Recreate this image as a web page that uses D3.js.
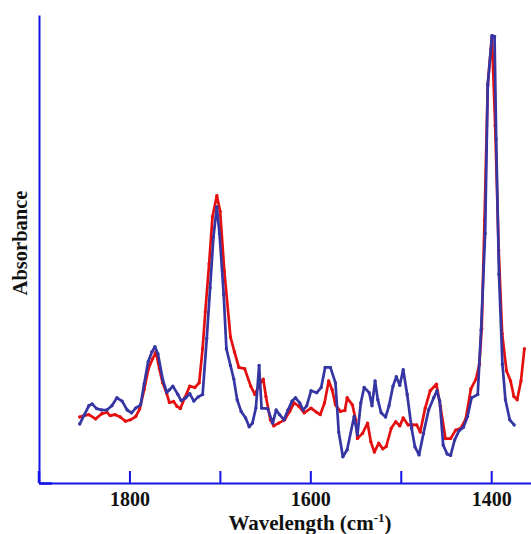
<!DOCTYPE html>
<html>
<head>
<meta charset="utf-8">
<script src="https://cdn.jsdelivr.net/npm/d3@7"></script>
<style>
  body { margin: 0; background: #fff; }
  svg text { font-family: "Times New Roman", "Liberation Serif", serif; font-weight: bold; }
</style>
</head>
<body>
<svg id="canvas" width="531" height="534"></svg>
<script>
// wavenumbers (cm-1) and absorbance (arbitrary units)
const redWave = [1855.0, 1850.1, 1844.9, 1837.4, 1830.6, 1825.0, 1821.3, 1815.8, 1810.1, 1804.4, 1798.8, 1793.1, 1788.7, 1783.7, 1779.0, 1774.5, 1770.7, 1766.9, 1763.3, 1758.8, 1755.8, 1751.2, 1747.5, 1743.7, 1738.8, 1733.3, 1727.7, 1722.9, 1719.1, 1716.1, 1711.9, 1708.2, 1703.4, 1699.7, 1695.1, 1688.3, 1683.9, 1679.0, 1672.6, 1665.9, 1661.3, 1656.1, 1652.0, 1649.1, 1644.2, 1640.4, 1635.1, 1628.4, 1622.8, 1617.9, 1612.7, 1606.8, 1599.2, 1592.9, 1589.1, 1584.3, 1579.7, 1576.0, 1572.2, 1566.7, 1561.8, 1559.3, 1553.5, 1549.8, 1547.9, 1542.3, 1536.7, 1533.1, 1529.2, 1524.4, 1519.8, 1516.1, 1510.5, 1505.6, 1501.1, 1497.3, 1491.8, 1486.8, 1482.4, 1478.5, 1473.0, 1467.5, 1460.6, 1456.2, 1450.6, 1444.9, 1439.3, 1433.6, 1428.1, 1422.5, 1416.8, 1413.1, 1410.5, 1407.4, 1403.8, 1399.2, 1395.6, 1391.7, 1387.9, 1383.1, 1378.6, 1374.9, 1371.3, 1367.1, 1363.3]
const redAbs = [0.141, 0.144, 0.146, 0.137, 0.148, 0.151, 0.144, 0.146, 0.141, 0.132, 0.135, 0.142, 0.158, 0.200, 0.244, 0.265, 0.280, 0.244, 0.214, 0.191, 0.172, 0.174, 0.164, 0.159, 0.182, 0.207, 0.204, 0.214, 0.287, 0.366, 0.468, 0.569, 0.614, 0.580, 0.453, 0.312, 0.280, 0.247, 0.244, 0.207, 0.189, 0.211, 0.222, 0.185, 0.135, 0.122, 0.128, 0.135, 0.153, 0.171, 0.164, 0.150, 0.160, 0.151, 0.146, 0.171, 0.218, 0.200, 0.167, 0.153, 0.155, 0.182, 0.167, 0.135, 0.095, 0.106, 0.128, 0.088, 0.066, 0.085, 0.073, 0.078, 0.117, 0.131, 0.122, 0.139, 0.124, 0.124, 0.124, 0.109, 0.160, 0.197, 0.211, 0.164, 0.095, 0.095, 0.113, 0.117, 0.137, 0.201, 0.222, 0.254, 0.330, 0.562, 0.851, 0.953, 0.764, 0.497, 0.319, 0.240, 0.218, 0.185, 0.178, 0.218, 0.287]

const blueWave = [1855.0, 1850.1, 1844.9, 1841.2, 1836.3, 1830.6, 1825.0, 1819.5, 1813.8, 1808.1, 1802.5, 1797.7, 1793.1, 1787.6, 1783.7, 1779.3, 1775.2, 1771.8, 1768.5, 1763.3, 1758.8, 1755.8, 1752.0, 1746.4, 1742.8, 1737.7, 1733.3, 1728.8, 1724.0, 1719.1, 1714.5, 1710.8, 1707.1, 1703.4, 1700.4, 1695.8, 1692.8, 1688.3, 1684.6, 1680.9, 1676.5, 1671.5, 1667.6, 1664.0, 1660.2, 1656.6, 1653.9, 1647.2, 1641.5, 1637.8, 1634.0, 1629.2, 1624.7, 1620.2, 1616.4, 1611.6, 1607.9, 1604.0, 1599.2, 1592.9, 1588.0, 1583.6, 1577.8, 1572.2, 1568.6, 1564.0, 1559.3, 1551.6, 1547.9, 1544.2, 1540.5, 1534.9, 1531.8, 1528.4, 1525.4, 1521.7, 1516.8, 1513.0, 1508.6, 1504.9, 1501.1, 1497.3, 1492.9, 1488.0, 1484.3, 1479.8, 1474.9, 1469.2, 1463.6, 1460.0, 1456.9, 1453.1, 1448.7, 1444.9, 1440.4, 1435.5, 1430.7, 1426.2, 1421.7, 1414.9, 1411.2, 1406.7, 1403.8, 1399.2, 1396.3, 1394.5, 1391.4, 1387.6, 1384.3, 1379.5, 1374.6]
const blueAbs = [0.126, 0.145, 0.165, 0.169, 0.159, 0.156, 0.156, 0.165, 0.182, 0.175, 0.156, 0.150, 0.160, 0.167, 0.212, 0.259, 0.280, 0.291, 0.276, 0.222, 0.194, 0.199, 0.207, 0.189, 0.176, 0.182, 0.191, 0.175, 0.184, 0.189, 0.309, 0.417, 0.526, 0.590, 0.533, 0.403, 0.287, 0.251, 0.222, 0.178, 0.153, 0.139, 0.120, 0.128, 0.160, 0.251, 0.160, 0.159, 0.128, 0.156, 0.146, 0.135, 0.156, 0.175, 0.182, 0.171, 0.156, 0.165, 0.197, 0.193, 0.204, 0.247, 0.247, 0.214, 0.109, 0.056, 0.071, 0.142, 0.103, 0.171, 0.204, 0.193, 0.165, 0.218, 0.178, 0.150, 0.141, 0.165, 0.207, 0.227, 0.209, 0.242, 0.189, 0.117, 0.077, 0.060, 0.106, 0.156, 0.182, 0.197, 0.175, 0.081, 0.062, 0.059, 0.092, 0.112, 0.119, 0.142, 0.182, 0.189, 0.327, 0.533, 0.851, 0.956, 0.954, 0.735, 0.446, 0.254, 0.178, 0.135, 0.124]

const xTicks = [1800, 1700, 1600, 1500, 1400]
const xLabels = [1800, 1600, 1400]

const axisColor = '#1414e6'
const redColor = '#e3100f'
const blueColor = '#3535a3'

let svg = d3.select('#canvas')

let plotLeft = 39, plotRight = 531, plotTop = 15, plotBottom = 483

let xScale = d3.scaleLinear()
    .domain([1900, 1356])
    .range([plotLeft, plotRight])

let yScale = d3.scaleLinear()
    .domain([0, 1])
    .range([plotBottom, plotTop])

// x axis, ticks pointing inward
let xAxis = d3.axisBottom(xScale)
    .tickValues(xTicks)
    .tickSizeInner(-12)
    .tickSizeOuter(0)
    .tickPadding(8)
    .tickFormat((d) => xLabels.includes(d) ? d : '')

let gx = svg.append('g')
    .attr('transform', 'translate(0,' + plotBottom + ')')
    .call(xAxis)
gx.select('.domain').attr('stroke', axisColor).attr('stroke-width', 2)
gx.selectAll('.tick line').attr('stroke', axisColor).attr('stroke-width', 2)
gx.selectAll('.tick text')
    .attr('fill', '#111')
    .style('font-size', '20px')
    .attr('dy', '0.75em')

// y axis, no labels, only a stub at the bottom
let yAxis = d3.axisLeft(yScale)
    .tickValues([0])
    .tickSizeInner(-13)
    .tickSizeOuter(0)
    .tickFormat('')

let gy = svg.append('g')
    .attr('transform', 'translate(' + plotLeft + ',0)')
    .call(yAxis)
gy.select('.domain').attr('stroke', axisColor).attr('stroke-width', 2)
gy.selectAll('.tick line').attr('stroke', axisColor).attr('stroke-width', 2.5)

// thicker corner on the y axis
svg.append('line')
    .attr('x1', plotLeft).attr('x2', plotLeft)
    .attr('y1', plotBottom - 12).attr('y2', plotBottom)
    .attr('stroke', axisColor)
    .attr('stroke-width', 2.5)

let line = d3.line()
    .x((d) => xScale(d[0]))
    .y((d) => yScale(d[1]))

let series = [
    { wave: redWave, abs: redAbs, color: redColor },
    { wave: blueWave, abs: blueAbs, color: blueColor }
]

series.forEach((s) => {
    let pts = s.wave.map((w, i) => [w, s.abs[i]])
    svg.append('path')
        .datum(pts)
        .attr('fill', 'none')
        .attr('stroke', s.color)
        .attr('stroke-width', 2.7)
        .attr('stroke-linejoin', 'round')
        .attr('d', line)
    svg.append('g')
        .selectAll('circle')
        .data(pts)
        .enter()
        .append('circle')
        .attr('cx', (d) => xScale(d[0]))
        .attr('cy', (d) => yScale(d[1]))
        .attr('r', 1.7)
        .attr('fill', s.color)
})

// axis titles
let xt = svg.append('text')
    .attr('x', 310)
    .attr('y', 530)
    .attr('text-anchor', 'middle')
    .attr('fill', '#111')
    .style('font-size', '21px')
xt.append('tspan').text('Wavelength (cm')
xt.append('tspan').text('-1').attr('dy', -8).style('font-size', '13px')
xt.append('tspan').text(')').attr('dy', 8)

svg.append('text')
    .attr('transform', 'translate(27,243) rotate(-90)')
    .attr('text-anchor', 'middle')
    .attr('fill', '#111')
    .style('font-size', '20.5px')
    .text('Absorbance')
</script>
</body>
</html>
